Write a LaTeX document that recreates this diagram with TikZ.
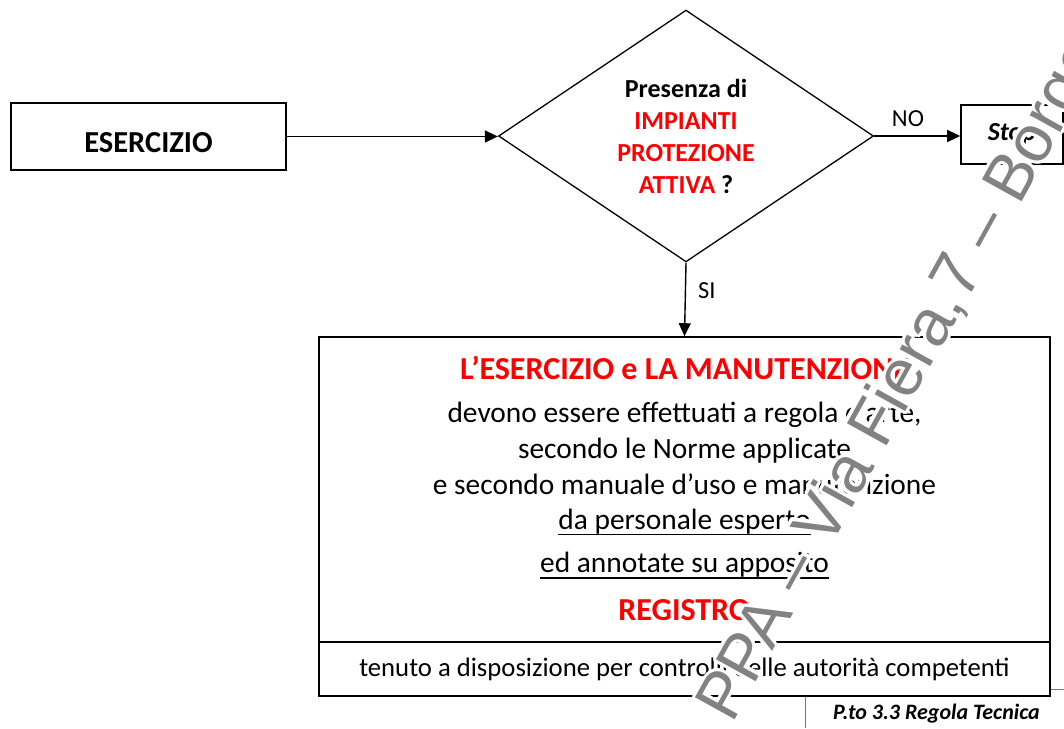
\documentclass[tikz,border=0pt]{standalone}
\usepackage{fontspec}
\setmainfont{Carlito}
\newfontfamily\wmfont{Liberation Sans}
\usetikzlibrary{arrows.meta,shapes.geometric}
\definecolor{myred}{RGB}{255,0,0}
\definecolor{wmgray}{RGB}{130,130,130}
\definecolor{lineblue}{RGB}{79,129,189}
\begin{document}
\begin{tikzpicture}[x=1pt,y=-1pt,
  box/.style={draw, line width=1.6pt, inner sep=0pt},
  arr/.style={line width=1.4pt,-{Triangle[length=13pt,width=12pt]}},
  txt/.style={inner sep=0pt, anchor=base},
  bodyfont/.style={font=\fontsize{29.4}{35}\selectfont},
  redbold/.style={font=\fontsize{32}{38}\selectfont\bfseries, text=myred},
  lbl/.style={inner sep=0pt, font=\fontsize{24.5}{28}\selectfont},
  uline/.style={line width=1.8pt},
  wm/.style={inner sep=0pt, rotate=61, font=\wmfont\fontsize{66}{68}\selectfont}]
\useasboundingbox (0,0) rectangle (1064,728);
\fill[white] (0,0) rectangle (1064,728);
\begin{scope}
\clip (0,0) rectangle (1064,728);
% ESERCIZIO
\node[box, minimum width=275pt, minimum height=67pt, text height=31pt, text depth=0pt,
      font=\fontsize{30.5}{34}\selectfont\bfseries] (es) at (148.5,136.5) {ESERCIZIO};
% decision
\node[diamond, draw, line width=1.3pt, minimum width=375pt, minimum height=246pt,
      inner sep=0pt, align=center, font=\fontsize{26}{32}\selectfont\bfseries]
      (dia) at (686,136) {Presenza di\\\textcolor{myred}{IMPIANTI}\\\textcolor{myred}{PROTEZIONE}\\\textcolor{myred}{ATTIVA} ?};
% stop
\node[box, minimum width=102pt, minimum height=59pt,
      font=\fontsize{26}{30}\selectfont\bfseries\itshape] (stop) at (1012,134.5) {Stop};
% main box
\node[box, minimum width=731pt, minimum height=305pt] (main) at (684.5,489.5) {};
\node[box, minimum width=731pt, minimum height=54pt,
      font=\fontsize{26.7}{30}\selectfont] (bot) at (684.5,669)
      {tenuto a disposizione per controlli delle autorità competenti};
% texts in main box
\node[txt, redbold] (t1) at (684.5,379) {L’ESERCIZIO e LA MANUTENZIONE};
\node[txt, bodyfont] (t2) at (684.5,422) {devono essere effettuati a regola d’arte,};
\node[txt, bodyfont] (t3) at (684.5,458) {secondo le Norme applicate};
\node[txt, bodyfont] (t4) at (684.5,494) {e secondo manuale d’uso e manutenzione};
\node[txt, bodyfont] (t5) at (684.5,529) {da personale esperto};
\node[txt, bodyfont] (t6) at (684.5,572) {ed annotate su apposito};
\node[txt, redbold] (t7) at (684.5,620) {REGISTRO};
\draw[uline] ([yshift=-5.5pt]t5.base west) -- ([yshift=-5.5pt]t5.base east);
\draw[uline] ([yshift=-6pt]t6.base west) -- ([yshift=-6pt]t6.base east);
% connectors
\draw[arr] (es.east) -- (es.east -| dia.west);
\draw[arr] (dia.east) -- (dia.east -| stop.west);
\draw[arr] (dia.south) -- (main.north);
\node[lbl, anchor=base] (no) at (908,126) {NO};
\node[lbl, anchor=base west] (si) at (698,298) {SI};
% page frame lines
\draw[lineblue, line width=1pt] (805.5,697) -- (805.5,728);
\draw[lineblue, line width=1pt] (1050.8,689) -- (1064,689);
\node[txt, anchor=base west, font=\fontsize{22}{24}\selectfont\bfseries\itshape] (ref) at (833,719) {P.to 3.3 Regola Tecnica};
% watermark
\foreach \a in {0,22.5,...,337.5}{
  \begin{scope}[shift={(\a:3.2pt)}]
    \node[wm, anchor=base east, text=white] at (966,303) {PPA – Via Fiera,\ };
    \node[wm, anchor=base west, text=white] at (966,303) {7 – Borgo};
  \end{scope}
}
\node[wm, anchor=base east, text=wmgray] (wma) at (966,303) {PPA – Via Fiera,\ };
\node[wm, anchor=base west, text=wmgray] (wmb) at (966,303) {7 – Borgo};
\end{scope}
\end{tikzpicture}
\end{document}
